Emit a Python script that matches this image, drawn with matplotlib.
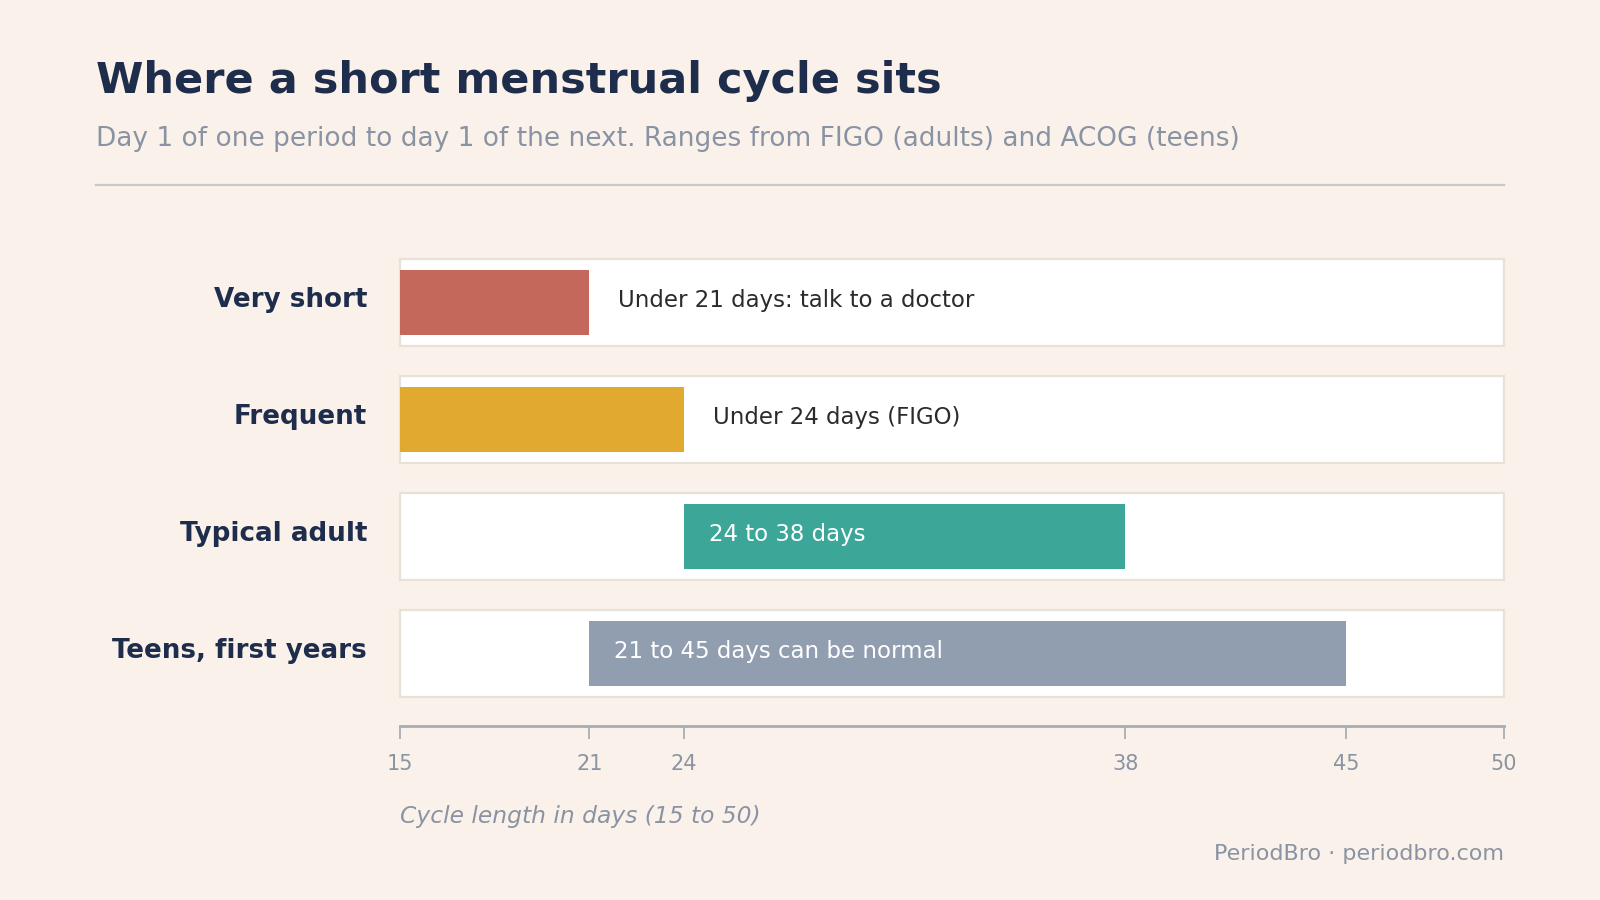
import matplotlib
matplotlib.use("Agg")
import matplotlib.pyplot as plt
from matplotlib.patches import Rectangle
from matplotlib.transforms import offset_copy, blended_transform_factory

categories = ["Very short", "Frequent", "Typical adult", "Teens, first years"]
starts = [15, 15, 24, 21]
ends = [21, 24, 38, 45]
labels = ["Under 21 days: talk to a doctor", "Under 24 days (FIGO)",
          "24 to 38 days", "21 to 45 days can be normal"]
label_inside = [False, False, True, True]
colors = ["#c4685c", "#e2a931", "#3ca699", "#919eaf"]
ticks = [15, 21, 24, 38, 45, 50]
xmin, xmax = 15, 50

BG = "#faf2ea"
NAVY = "#1f2d4d"
GRAY = "#8a93a3"

plt.rcParams['font.family'] = ['DejaVu Sans']
fig = plt.figure(figsize=(16, 9), dpi=100, facecolor=BG)
ax = fig.add_axes([0.25, 1 - 725.5 / 900, 0.69, 481.5 / 900])
ax.set_facecolor(BG)

n = len(categories)
ypos = [n - 1 - i for i in range(n)]
box_h = 0.744
bar_h = 0.55
cat_tr = offset_copy(blended_transform_factory(ax.transAxes, ax.transData),
                     fig=fig, x=-33, y=3, units='dots')
for i, cat in enumerate(categories):
    y = ypos[i]
    ax.add_patch(Rectangle((xmin, y - box_h / 2), xmax - xmin, box_h,
                           facecolor="white", edgecolor="#e7e1d7", lw=1.6, zorder=1,
                           clip_on=False))
    ax.barh(y, ends[i] - starts[i], left=starts[i], height=bar_h,
            color=colors[i], zorder=2)
    ax.text(0, y, cat, transform=cat_tr, fontsize=18.8, fontweight="bold",
            color=NAVY, ha="right", va="center", clip_on=False)
    if label_inside[i]:
        tr = offset_copy(ax.transData, fig=fig, x=25, y=2, units='dots')
        ax.text(starts[i], y, labels[i], transform=tr, color="white",
                fontsize=16.5, va="center", ha="left", zorder=3)
    else:
        tr = offset_copy(ax.transData, fig=fig, x=29, y=2, units='dots')
        ax.text(ends[i], y, labels[i], transform=tr, color="#2b2b2b",
                fontsize=16.5, va="center", ha="left", zorder=3)

ax.set_xlim(xmin, xmax)
ax.set_ylim(-0.615, n - 0.5)
ax.set_yticks([])
ax.set_xticks(ticks)
ax.set_xticklabels([str(t) for t in ticks], fontsize=15, color=GRAY)
ax.tick_params(axis="x", length=9, width=1.3, color="#a8adb5", pad=11.5)
for s in ["top", "right", "left"]:
    ax.spines[s].set_visible(False)
ax.spines["bottom"].set_color("#a8adb5")
ax.spines["bottom"].set_linewidth(2)

fig.text(0.25, 1 - 816 / 900, "Cycle length in days (15 to 50)", fontsize=16.8,
         style="italic", color=GRAY, ha="left", va="center")

fig.text(0.06, 1 - 93.3 / 900, "Where a short menstrual cycle sits", fontsize=31,
         fontweight="bold", color=NAVY, ha="left", va="baseline")
fig.text(0.06, 1 - 146 / 900,
         "Day 1 of one period to day 1 of the next. Ranges from FIGO (adults) and ACOG (teens)",
         fontsize=19, color=GRAY, ha="left", va="baseline")
fig.add_artist(plt.Line2D([96 / 1600, 1504 / 1600], [1 - 185 / 900, 1 - 185 / 900],
                          color="#c5c8cd", lw=1.6, transform=fig.transFigure))
fig.text(1504 / 1600, 1 - 860 / 900, "PeriodBro \u00b7 periodbro.com", fontsize=16,
         color=GRAY, ha="right", va="baseline")

fig.savefig("out.png", dpi=100, facecolor=BG)
